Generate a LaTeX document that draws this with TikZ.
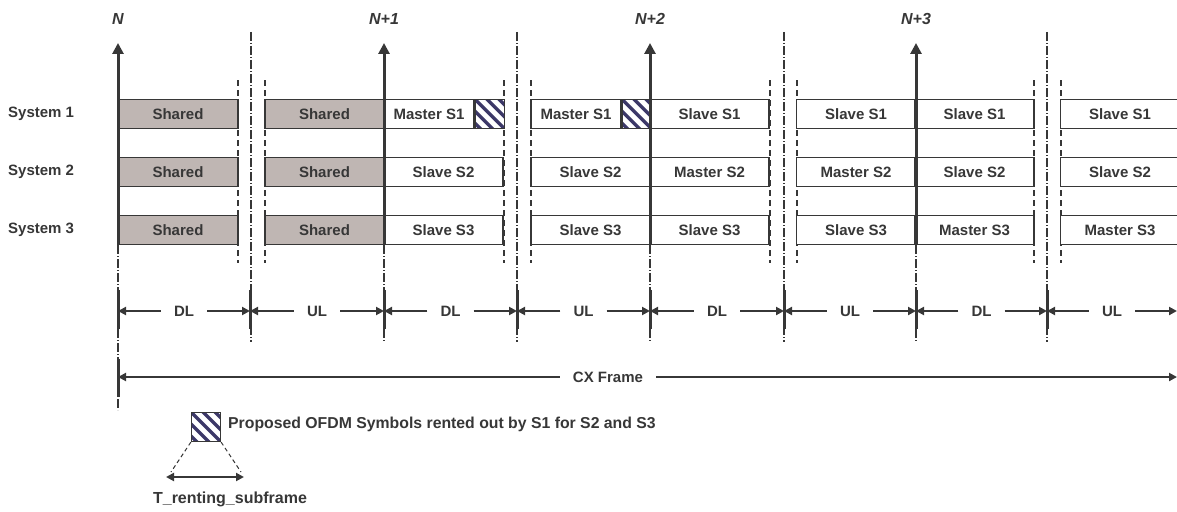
\documentclass[tikz,border=0pt]{standalone}
\usepackage{fontspec}
\setmainfont{Liberation Sans}
\usetikzlibrary{positioning, calc, arrows.meta}
\definecolor{ink}{RGB}{55,55,55}
\definecolor{sharedgray}{RGB}{191,182,179}
\definecolor{rentblue}{RGB}{60,56,104}
\tikzset{x=1pt, y=-1pt, % One unit is one pixel of the sketch, y grows downwards
every node/.style={ % Sets the text of every label
font=\fontsize{15}{17}\selectfont\bfseries,
text=ink},
slot/.style={ % One subframe of one system
draw=ink, line width=1.2pt, fill=white,
minimum width=119, minimum height=29, inner sep=0pt},
shared/.style={fill=sharedgray}, % Subframe shared by all systems
rent/.style={ % OFDM symbols rented out
draw=ink, line width=1.2pt, fill=white,
minimum width=29, minimum height=29, inner sep=0pt,
path picture={\foreach \k in {-36,-24,...,36}
\draw[rentblue, line width=3.4pt] (path picture bounding box.center)
++(\k pt-30pt, 30pt) -- ++(60pt,-60pt);}},
framearrow/.style={ % Start of frame N, N+1, ...
draw=ink, line width=3pt, -{Triangle[length=11pt, width=11pt]}},
edgeline/.style={draw=ink, line width=1.1pt, dash pattern=on 6pt off 4pt},
midline/.style={draw=ink, line width=1.1pt, dash pattern=on 9pt off 2pt on 1pt off 2pt},
tick/.style={draw=ink, line width=3pt},
dim/.style={ % DL/UL duration arrows
draw=ink, line width=2pt, -{Triangle[length=8pt, width=8pt]}},
dimlabel/.style={inner xsep=13pt, inner ysep=2pt}}

\begin{document}
\begin{tikzpicture}
    \useasboundingbox (0,0) rectangle (1177,511);

    % guide lines between the halves of each frame
    \foreach \ex in {238,265,504,531,770,797,1034,1061}
        \draw[edgeline] (\ex,80) -- (\ex,263);
    \foreach \mx in {251,517,784,1047}
        \draw[midline] (\mx,32) -- (\mx,342);
    \foreach \nx in {384,650,916}
        \draw[midline] (\nx,245) -- (\nx,342);
    \draw[midline] (118,245) -- (118,410);

    % systems
    \foreach \r/\yy in {1/114, 2/172, 3/230} {
        \node[anchor=west, inner sep=0pt] (sys\r) at (8,\yy) {System \r};
        \node[slot, shared, minimum width=120] (r\r c0) at (178,\yy) {Shared};
        \node[slot, shared] (r\r c1) at (324.5,\yy) {Shared};
    }

    \node[slot, minimum width=90] (r1c2) at (429,114) {Master S1};
    \node[rent, right=0pt of r1c2] (r1h2) {};
    \node[slot, minimum width=90] (r1c3) at (576,114) {Master S1};
    \node[rent, right=0pt of r1c3] (r1h3) {};
    \foreach \c/\cx in {4/709.5, 5/856, 6/974.5, 7/1120}
        \node[slot] (r1c\c) at (\cx,114) {Slave S1};

    \foreach \c/\cx/\txt in {2/443.5/Slave, 3/590.5/Slave, 4/709.5/Master,
                              5/856/Master, 6/974.5/Slave, 7/1120/Slave}
        \node[slot] (r2c\c) at (\cx,172) {\txt{} S2};

    \foreach \c/\cx/\txt in {2/443.5/Slave, 3/590.5/Slave, 4/709.5/Slave,
                              5/856/Slave, 6/974.5/Master, 7/1120/Master}
        \node[slot] (r3c\c) at (\cx,230) {\txt{} S3};

    % frame starts
    \foreach \k/\nx/\lbl in {0/118/N, 1/384/N+1, 2/650/N+2, 3/916/N+3} {
        \coordinate (foot\k) at (\nx,245);
        \coordinate (tip\k) at (\nx,43);
        \draw[framearrow] (foot\k) -- (tip\k);
        \node[font=\fontsize{16}{18}\selectfont\bfseries\itshape] (lab\k) at (\nx,19) {\lbl};
    }

    % DL / UL durations
    \foreach \i/\mx in {0/118,1/250,2/384,3/517,4/650,5/784,6/916,7/1047,8/1177}
        \coordinate (m\i) at (\mx,311);
    \foreach \i in {0,...,7}
        \draw[tick] ($(m\i)+(0,-21)$) -- ($(m\i)+(0,18)$);
    \foreach \i/\j/\lbl in {0/1/DL, 1/2/UL, 2/3/DL, 3/4/UL, 4/5/DL, 5/6/UL, 6/7/DL, 7/8/UL} {
        \node[dimlabel] (d\i) at ($(m\i)!0.5!(m\j)$) {\lbl};
        \draw[dim] (d\i) -- (m\i);
        \draw[dim] (d\i) -- (m\j);
    }

    % CX frame
    \coordinate (cx0) at (118,377);
    \coordinate (cx1) at (1177,377);
    \draw[tick] (118,359) -- (118,397);
    \node[dimlabel] (cx) at (608,377) {CX Frame};
    \draw[dim] (cx) -- (cx0);
    \draw[dim] (cx) -- (cx1);

    % legend
    \node[rent] (key) at (206,427) {};
    \node[anchor=west, inner sep=0pt, font=\fontsize{15.8}{17}\selectfont\bfseries] (keytext) at (228,424)
        {Proposed OFDM Symbols rented out by S1 for S2 and S3};
    \coordinate (tl) at (171,472);
    \coordinate (tr) at (241,472);
    \draw[edgeline, line width=1pt, dash pattern=on 4pt off 3pt] (key.south west) -- (tl);
    \draw[edgeline, line width=1pt, dash pattern=on 4pt off 3pt] (key.south east) -- (tr);
    \coordinate (ta) at (166,477);
    \coordinate (tb) at (244,477);
    \draw[dim, {Triangle[length=8pt, width=8pt]}-{Triangle[length=8pt, width=8pt]}] (ta) -- (tb);
    \node[font=\fontsize{16}{18}\selectfont\bfseries] (trent) at (230,499) {T\_renting\_subframe};

\end{tikzpicture}
\end{document}
